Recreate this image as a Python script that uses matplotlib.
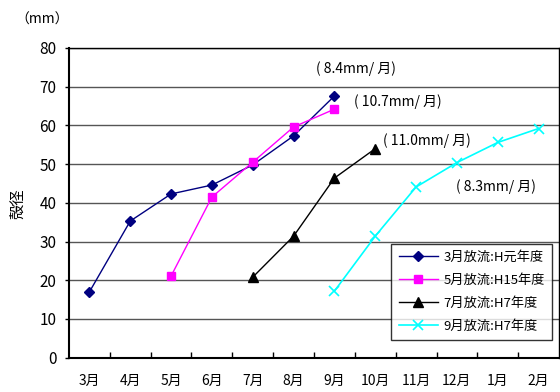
import numpy as np
import matplotlib
matplotlib.use('Agg')
import matplotlib.pyplot as plt

plt.rcParams['font.family'] = ['Noto Sans CJK JP', 'DejaVu Sans']

months = ['3月', '4月', '5月', '6月', '7月', '8月', '9月', '10月', '11月', '12月', '1月', '2月']

# series: (start index into months, values)
s1_start = 0
s1_vals = [17.0, 35.3, 42.3, 44.6, 49.8, 57.3, 67.6]
s2_start = 2
s2_vals = [21.1, 41.5, 50.5, 59.6, 64.2]
s3_start = 4
s3_vals = [20.8, 31.4, 46.4, 54.0]
s4_start = 6
s4_vals = [17.2, 31.4, 44.1, 50.4, 55.6, 59.2]

labels = ['3月放流:H元年度', '5月放流:H15年度', '7月放流:H7年度', '9月放流:H7年度']
rates = ['( 8.4mm/ 月)', '( 10.7mm/ 月)', '( 11.0mm/ 月)', '( 8.3mm/ 月)']

fig = plt.figure(figsize=(5.6, 3.92), dpi=100)
ax = fig.add_axes([69/560, 1-357.7/392, (559-69)/560, (357.7-48)/392])

def xs(start, vals):
    return np.arange(start, start + len(vals))

ax.plot(xs(s1_start, s1_vals), s1_vals, color='#000080', marker='D', ms=5, lw=1, label=labels[0], zorder=3)
ax.plot(xs(s2_start, s2_vals), s2_vals, color='#ff00ff', marker='s', ms=6, lw=1, label=labels[1], zorder=3)
ax.plot(xs(s3_start, s3_vals), s3_vals, color='black', marker='^', ms=7, lw=1, label=labels[2], zorder=3)
ax.plot(xs(s4_start, s4_vals), s4_vals, color='#00ffff', marker='x', ms=7, mew=1.2, lw=1.2, label=labels[3], zorder=3)

ax.set_xlim(-0.5, len(months) - 0.5)
ax.set_ylim(0, 80)
ax.set_yticks(range(0, 81, 10))
ax.set_xticks(range(len(months)))
ax.set_xticklabels(months)
ax.set_xticks(np.arange(0.5, len(months) - 0.5), minor=True)
ax.tick_params(axis='x', which='major', length=0, pad=12, labelsize=10)
ax.tick_params(axis='x', which='minor', length=4, direction='in', width=1)
ax.tick_params(axis='y', length=3, width=1, labelsize=11, pad=6)
ax.yaxis.grid(True, color='#555555', lw=1)
ax.set_axisbelow(True)
for sp in ax.spines.values():
    sp.set_linewidth(1.5)
ax.spines['top'].set_linewidth(1)
ax.spines['right'].set_linewidth(1)

fig.text(18/560, 1-204/392, '殻径', rotation=90, ha='center', va='center', fontsize=11)
fig.text(15/560, 1-20/392, '（mm）', ha='left', va='center', fontsize=10)

# rate annotations near the end of each series
ax.text(5.54, 74.6, rates[0], fontsize=10, va='center')
ax.text(6.47, 66.1, rates[1], fontsize=10, va='center')
ax.text(7.2, 56.2, rates[2], fontsize=10, va='center')
ax.text(8.97, 44.1, rates[3], fontsize=10, va='center')

leg = ax.legend(loc='lower right', bbox_to_anchor=(0.986, 0.057), borderaxespad=0, fontsize=9.5,
                frameon=True, fancybox=False, edgecolor='black', handlelength=3, labelspacing=0.75,
                borderpad=0.55, handletextpad=0.4)
leg.get_frame().set_linewidth(1)

fig.savefig('out.png', dpi=100)
